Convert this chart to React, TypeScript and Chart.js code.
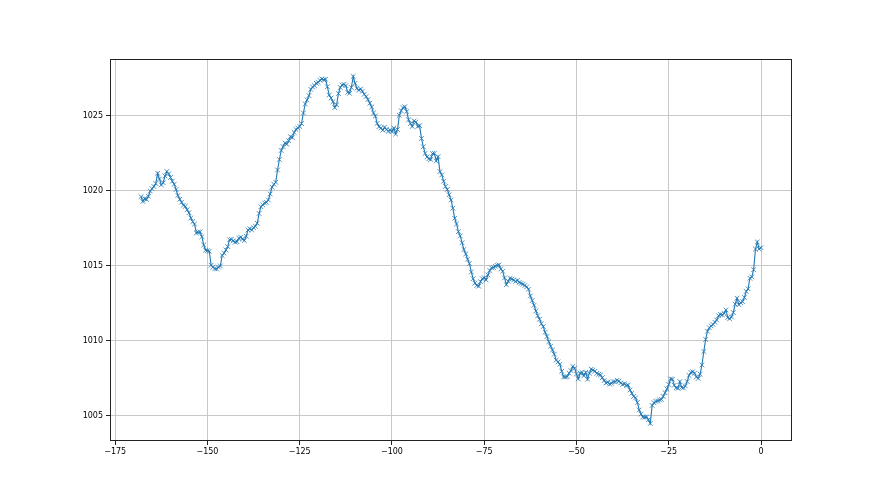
import { useEffect, useRef } from "react";
import { Chart, registerables } from "chart.js";

Chart.register(...registerables);

// Hours relative to now (half-hour readings from -168 h to 0 h)
const START_HOUR = -168;
const STEP_HOURS = 0.5;

const X_TICKS = [-175, -150, -125, -100, -75, -50, -25, 0];
const Y_TICKS = [1005, 1010, 1015, 1020, 1025];

// Pressure readings (hPa), one per half hour, oldest first
const pressure = [
  // -168 .. -136.5
  1019.62, 1019.3, 1019.49, 1019.44, 1019.65, 1020.0, 1020.15, 1020.3, 1020.5, 1021.18,
  1020.8, 1020.4, 1020.55, 1021.0, 1021.3, 1021.15, 1020.9, 1020.65, 1020.45, 1020.1,
  1019.7, 1019.45, 1019.25, 1019.05, 1018.97, 1018.75, 1018.55, 1018.2, 1017.95, 1017.8,
  1017.2, 1017.25, 1017.28, 1016.95, 1016.4, 1016.05, 1016.02, 1015.98, 1015.05, 1014.92,
  1014.82, 1014.8, 1014.92, 1015.0, 1015.7, 1015.85, 1016.07, 1016.29, 1016.75, 1016.78,
  1016.67, 1016.58, 1016.62, 1016.85, 1016.92, 1016.8, 1016.7, 1016.98, 1017.4, 1017.49,
  1017.4, 1017.55, 1017.65, 1017.85,
  // -136 .. -134.5
  1018.5, 1018.95, 1019.07, 1019.2,
  // -134 .. -96.5
  1019.24, 1019.4, 1019.8, 1020.25, 1020.45, 1020.58, 1021.4, 1022.1, 1022.7, 1022.96,
  1023.2, 1023.12, 1023.35, 1023.62, 1023.56, 1023.9, 1024.1, 1024.2, 1024.3, 1024.5,
  1025.2, 1025.8, 1026.07, 1026.36, 1026.78, 1026.93, 1027.02, 1027.18, 1027.24, 1027.38,
  1027.47, 1027.42, 1027.45, 1026.95, 1026.4, 1026.2, 1025.95, 1025.56, 1025.75, 1026.5,
  1026.9, 1027.07, 1027.11, 1027.02, 1026.58, 1026.51, 1026.9, 1027.64, 1027.18, 1026.84,
  1026.73, 1026.8, 1026.65, 1026.45, 1026.3, 1026.1, 1025.85, 1025.6, 1025.2, 1025.0,
  1024.51, 1024.29, 1024.2, 1024.05, 1024.25, 1024.1, 1023.98, 1024.05, 1023.96, 1024.2,
  1023.8, 1024.1, 1025.05, 1025.35, 1025.56, 1025.62,
  // -96 .. -63
  1025.3, 1024.75, 1024.5, 1024.3, 1024.67, 1024.6, 1024.3, 1024.36, 1023.5, 1022.95,
  1022.51, 1022.27, 1022.15, 1022.1, 1022.5, 1022.51, 1022.0, 1022.29, 1021.29, 1021.07,
  1020.65, 1020.3, 1020.1, 1019.75, 1019.4, 1018.85, 1018.18, 1017.8, 1017.29, 1017.0,
  1016.55, 1016.1, 1015.8, 1015.45, 1015.15, 1014.6, 1014.15, 1013.85, 1013.7, 1013.65,
  1013.95, 1014.15, 1014.22, 1014.07, 1014.4, 1014.7, 1014.87, 1014.9, 1014.98, 1015.04,
  1015.07, 1014.8, 1014.65, 1014.2, 1013.75, 1013.98, 1014.18, 1014.13, 1014.07, 1013.96,
  1014.05, 1013.9, 1013.84, 1013.78, 1013.7, 1013.6, 1013.45,
  // -62.5 .. -27.5
  1013.0, 1012.7, 1012.38, 1012.0, 1011.68, 1011.45, 1011.15, 1010.96, 1010.58, 1010.3,
  1009.95, 1009.65, 1009.4, 1009.12, 1008.72, 1008.6, 1008.44, 1007.98, 1007.6, 1007.6,
  1007.62, 1007.85, 1008.02, 1008.3, 1008.18, 1007.8, 1007.47, 1007.85, 1007.9, 1007.68,
  1007.91, 1007.45, 1007.85, 1008.12, 1008.05, 1007.98, 1007.84, 1007.78, 1007.73, 1007.55,
  1007.36, 1007.2, 1007.25, 1007.12, 1007.18, 1007.28, 1007.28, 1007.38, 1007.32, 1007.2,
  1007.1, 1007.15, 1007.03, 1007.05, 1006.73, 1006.51, 1006.3, 1006.2, 1005.9, 1005.4,
  1005.12, 1004.93, 1004.92, 1004.93, 1004.75, 1004.5, 1005.7, 1005.88, 1005.97, 1006.0,
  1006.07,
  // -27 .. 0
  1006.1, 1006.3, 1006.55, 1006.8, 1007.1, 1007.47, 1007.45, 1007.05, 1006.88, 1006.84,
  1007.29, 1006.9, 1006.87, 1007.0, 1007.3, 1007.7, 1007.9, 1007.95, 1007.85, 1007.6,
  1007.5, 1007.78, 1008.4, 1009.3, 1010.1, 1010.65, 1010.88, 1011.0, 1011.1, 1011.25,
  1011.4, 1011.68, 1011.77, 1011.74, 1011.84, 1012.07, 1011.56, 1011.48, 1011.6, 1011.9,
  1012.45, 1012.85, 1012.42, 1012.55, 1012.62, 1012.9, 1013.3, 1013.48, 1014.18, 1014.27,
  1014.75, 1016.13, 1016.6, 1016.13, 1016.22,
];

const fmt = (v: number) => (v < 0 ? "\u2212" + Math.abs(v) : String(v));

const framePlugin = {
  id: "frame",
  afterDraw(chart: any) {
    const { ctx, chartArea } = chart;
    const l = Math.round(chartArea.left) + 0.5;
    const t = Math.round(chartArea.top) + 0.5;
    const r = Math.round(chartArea.right) - 0.5;
    const b = Math.round(chartArea.bottom) - 0.5;
    ctx.save();
    ctx.strokeStyle = "#222";
    ctx.lineWidth = 1;
    ctx.strokeRect(l, t, r - l, b - t);
    ctx.restore();
  },
};

export default function App() {
  const ref = useRef<HTMLCanvasElement | null>(null);

  useEffect(() => {
    document.body.style.margin = "0";
    const canvas = ref.current;
    if (!canvas) return;
    const points = pressure.map((y, i) => ({ x: START_HOUR + i * STEP_HOURS, y }));
    const font = { family: "'DejaVu Sans'", size: 8 };
    const chart = new Chart(canvas, {
      type: "line",
      data: {
        datasets: [
          {
            data: points,
            borderColor: "#1f77b4",
            borderWidth: 1.1,
            pointStyle: "crossRot",
            pointRadius: 3.3,
            pointBorderWidth: 0.8,
            pointBorderColor: "#1f77b4",
            pointBackgroundColor: "#1f77b4",
            tension: 0,
            fill: false,
          },
        ],
      },
      options: {
        animation: false,
        responsive: false,
        devicePixelRatio: 1,
        layout: { padding: { left: 0, right: 88, top: 59, bottom: 0 } },
        plugins: { legend: { display: false }, tooltip: { enabled: false } },
        scales: {
          x: {
            type: "linear",
            min: -176.4,
            max: 8.4,
            afterBuildTicks: (s: any) => {
              s.ticks = X_TICKS.map((v) => ({ value: v }));
            },
            afterFit: (s: any) => {
              s.height = 54;
            },
            grid: { color: "#c8c8c8", lineWidth: 1, tickLength: 4, tickColor: "#222", drawTicks: true },
            border: { display: false },
            ticks: { color: "#000", font, padding: 2, maxRotation: 0, autoSkip: false, callback: (v: any) => fmt(Number(v)) },
          },
          y: {
            type: "linear",
            min: 1003.33,
            max: 1028.8,
            afterBuildTicks: (s: any) => {
              s.ticks = Y_TICKS.map((v) => ({ value: v }));
            },
            afterFit: (s: any) => {
              s.width = 110;
            },
            grid: { color: "#c8c8c8", lineWidth: 1, tickLength: 4, tickColor: "#222", drawTicks: true },
            border: { display: false },
            ticks: { color: "#000", font, padding: 3, autoSkip: false, callback: (v: any) => fmt(Number(v)) },
          },
        },
      },
      plugins: [framePlugin],
    });
    return () => chart.destroy();
  }, []);

  return (
    <div style={{ position: "absolute", left: 0, top: 0, width: 880, height: 495, background: "#fff" }}>
      <canvas ref={ref} width={880} height={495} style={{ width: 880, height: 495, display: "block" }} />
    </div>
  );
}
